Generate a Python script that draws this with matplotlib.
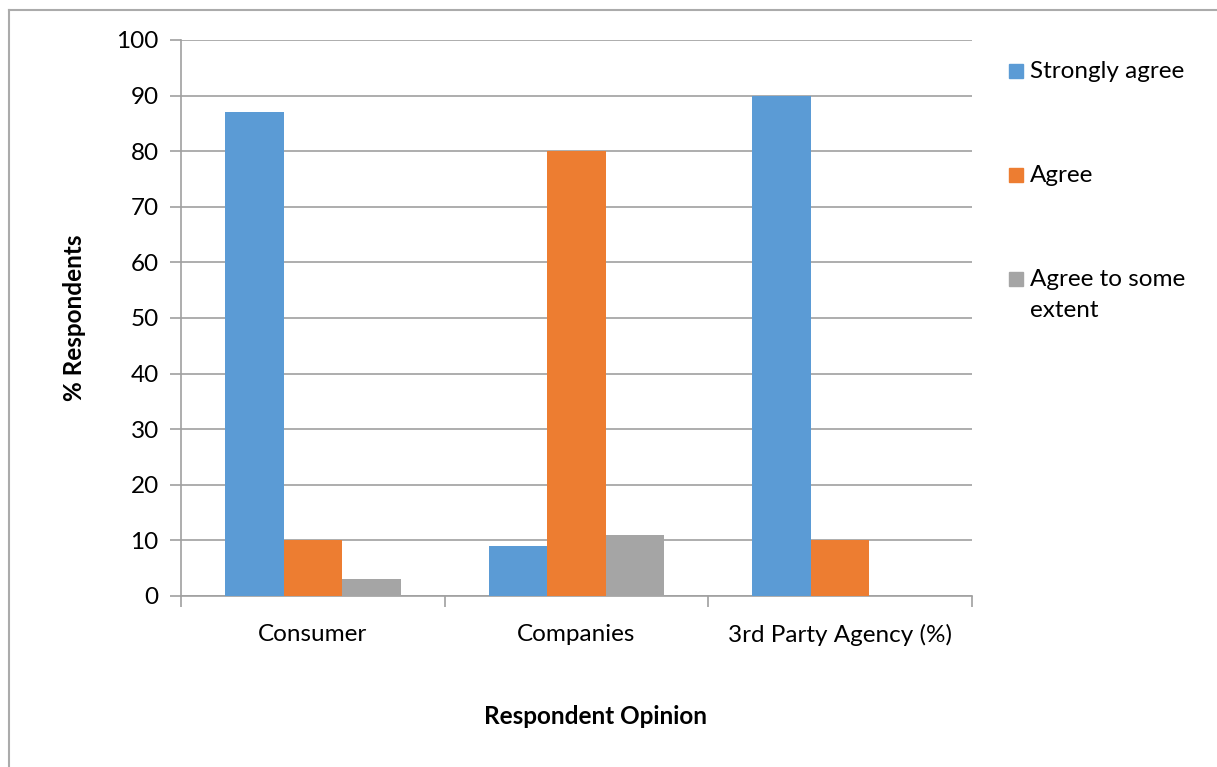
import matplotlib
matplotlib.use("Agg")
import matplotlib.pyplot as plt
from matplotlib.patches import Rectangle
import numpy as np

categories = ["Consumer", "Companies", "3rd Party Agency (%)"]
series_names = ["Strongly agree", "Agree", "Agree to some\nextent"]
strongly_agree = [87, 9, 90]
agree = [10, 80, 10]
agree_some = [3, 11, 0]
colors = ["#5B9BD5", "#ED7D31", "#A5A5A5"]
yticks = [0, 10, 20, 30, 40, 50, 60, 70, 80, 90, 100]

plt.rcParams['font.family'] = ['Lato', 'DejaVu Sans']
FS = 17.5

W, H = 1217, 767
fig = plt.figure(figsize=(W / 100, H / 100), dpi=100)
ax = fig.add_axes([181 / W, 1 - 596 / H, (972 - 181) / W, (596 - 40) / H])

x = np.arange(len(categories))
bw = 2 / 9
data = [strongly_agree, agree, agree_some]
for i, (vals, c, name) in enumerate(zip(data, colors, series_names)):
    ax.bar(x + (i - 1) * bw, vals, width=bw, color=c, label=name, zorder=3)

ax.set_xlim(-0.5, 2.5)
ax.set_ylim(0, 100)
ax.set_yticks(yticks)
ax.set_yticklabels([str(v) for v in yticks], fontsize=FS)
ax.set_xticks(x)
ax.set_xticklabels(categories, fontsize=FS)
ax.tick_params(axis='x', length=0, pad=20)
ax.set_xticks([-0.5, 0.5, 1.5, 2.5], minor=True)
ax.tick_params(axis='x', which='minor', length=8, color='#A0A0A0', width=1.2)
ax.tick_params(axis='y', length=8, color='#A0A0A0', width=1.2, pad=8)
ax.grid(axis='y', color='#A0A0A0', linewidth=1.2, zorder=0)
for s in ['top', 'right']:
    ax.spines[s].set_visible(False)
for s in ['left', 'bottom']:
    ax.spines[s].set_color('#A0A0A0')
    ax.spines[s].set_linewidth(1.2)

fig.text(75 / W, 1 - 318 / H, "% Respondents", fontsize=FS, fontweight='bold',
         rotation=90, ha='center', va='center')
fig.text(596 / W, 1 - 716 / H, "Respondent Opinion", fontsize=FS,
         fontweight='bold', ha='center', va='center')

# legend manually
leg_y = [71, 175, 279]
for name, c, yy in zip(series_names, colors, leg_y):
    fig.patches.append(Rectangle((1009 / W, 1 - (yy + 7) / H), 14 / W, 14 / H,
                                 transform=fig.transFigure, color=c))
    if '\n' in name:
        fig.text(1030 / W, 1 - (yy - 10) / H, name, fontsize=FS, va='top',
                 ha='left', linespacing=1.6)
    else:
        fig.text(1030 / W, 1 - yy / H, name, fontsize=FS, va='center', ha='left')

# figure frame
fig.add_artist(plt.Line2D([9 / W, 9 / W], [0, 1 - 10 / H], transform=fig.transFigure,
                          color='#ABABAB', linewidth=1.5))
fig.add_artist(plt.Line2D([9 / W, 1], [1 - 10 / H, 1 - 10 / H], transform=fig.transFigure,
                          color='#ABABAB', linewidth=1.5))

fig.savefig("out.png", dpi=100)
